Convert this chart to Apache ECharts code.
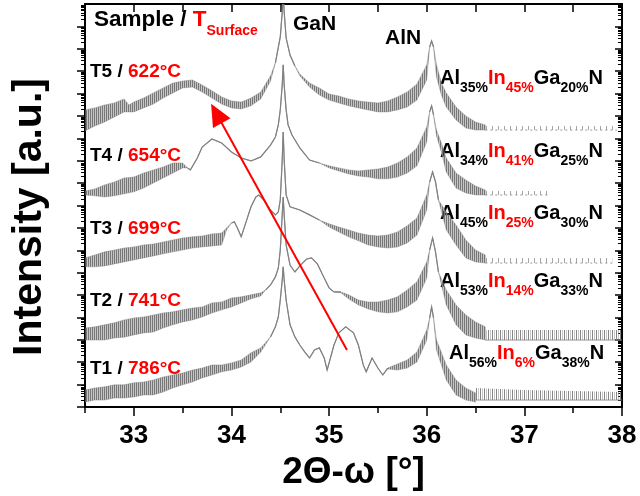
<!DOCTYPE html>
<html><head><meta charset="utf-8">
<script src="https://cdn.jsdelivr.net/npm/echarts@6/dist/echarts.min.js"></script>
<style>html,body{margin:0;padding:0;background:#fff}#c{width:640px;height:496px}</style>
</head><body><div id="c"></div>
<script>
const FONT = "'Liberation Sans', Arial, Helvetica, sans-serif";

// ---- tick labels / categories ----
const xTickLabels = [33, 34, 35, 36, 37, 38];
const samples = ['T1', 'T2', 'T3', 'T4', 'T5'];
const surfaceTemps = ['786°C', '741°C', '699°C', '654°C', '622°C'];
const compAl = ['56%', '53%', '45%', '34%', '35%'];
const compIn = ['6%', '14%', '25%', '41%', '45%'];
const compGa = ['38%', '33%', '30%', '25%', '20%'];

// ---- data: [2θ-ω (deg), upper log10 intensity, lower log10 intensity] (curves offset) ----
const t5 = [[32.5,13.27,12.33],[32.6,13.36,12.55],[32.7,13.49,12.73],[32.8,13.58,12.95],[32.9,13.76,13.18],[32.95,13.49,13.18],[33.0,13.62,13.18],[33.1,13.80,13.36],[33.2,14.03,13.53],[33.3,14.25,13.80],[33.4,14.47,14.03],[33.5,14.56,14.25],[33.6,14.61,14.29],[33.7,14.38,14.07],[33.8,14.12,13.80],[33.9,13.85,13.53],[34.0,13.67,13.36],[34.1,13.62,13.31],[34.2,13.80,13.45],[34.3,14.07,13.76],[34.4,14.79,14.56],[34.45,15.37,15.37],[34.5,16.53,16.53],[34.52,17.64,17.64],[34.53,18.40,18.40],[34.54,17.64,17.64],[34.56,16.48,16.48],[34.6,15.72,15.72],[34.65,15.23,15.23],[34.7,14.87,14.79],[34.8,14.47,14.29],[34.9,14.25,13.94],[35.0,13.98,13.71],[35.1,13.89,13.58],[35.2,13.76,13.45],[35.3,13.67,13.36],[35.4,13.62,13.27],[35.5,13.58,13.18],[35.6,13.67,13.18],[35.7,13.85,13.27],[35.8,14.07,13.40],[35.9,14.43,13.71],[36.0,15.28,14.61],[36.03,16.08,16.08],[36.05,16.35,16.35],[36.07,16.08,16.08],[36.1,15.28,14.74],[36.15,14.47,13.94],[36.2,14.03,13.40],[36.3,13.40,12.82],[36.4,13.00,12.46],[36.5,12.73,12.37],[36.6,12.60,12.37]];
const t5Floor = [[36.6,12.55,12.37],[37.95,12.55,12.37]];

const t4 = [[32.5,9.65,9.47],[32.6,9.74,9.43],[32.7,9.92,9.38],[32.8,10.05,9.43],[32.9,10.23,9.52],[33.0,10.27,9.61],[33.1,10.45,9.78],[33.2,10.59,10.01],[33.3,10.72,10.23],[33.4,10.90,10.45],[33.5,10.90,10.68],[33.55,10.68,10.68],[33.58,10.59,10.59],[33.65,11.12,11.12],[33.7,11.61,11.61],[33.8,11.97,11.97],[33.9,11.79,11.79],[34.0,11.39,11.39],[34.1,11.12,11.12],[34.2,10.99,10.99],[34.3,11.17,11.17],[34.4,11.70,11.70],[34.45,12.06,12.06],[34.48,12.60,12.60],[34.5,13.27,13.27],[34.52,14.38,14.38],[34.53,15.28,15.28],[34.54,14.38,14.38],[34.56,13.27,13.27],[34.58,12.60,12.60],[34.62,12.15,12.15],[34.7,11.57,11.57],[34.8,11.03,11.03],[34.9,10.90,10.90],[35.0,10.77,10.68],[35.1,10.68,10.54],[35.2,10.59,10.41],[35.3,10.54,10.32],[35.4,10.59,10.27],[35.5,10.63,10.19],[35.6,10.72,10.19],[35.7,10.90,10.27],[35.8,11.17,10.45],[35.9,11.57,10.77],[36.0,12.51,11.84],[36.03,13.18,13.18],[36.05,13.45,13.45],[36.07,13.04,13.04],[36.1,12.37,12.11],[36.15,11.79,11.39],[36.2,11.12,10.50],[36.3,10.45,9.78],[36.4,10.14,9.56],[36.5,9.87,9.47],[36.6,9.69,9.47]];
const t4Floor = [[36.6,9.65,9.47],[37.25,9.65,9.47]];

const t3 = [[32.5,6.66,6.26],[32.6,6.79,6.26],[32.7,6.93,6.30],[32.8,7.01,6.39],[32.9,7.10,6.48],[33.0,7.15,6.57],[33.1,7.24,6.66],[33.2,7.28,6.75],[33.3,7.37,6.84],[33.4,7.46,6.93],[33.5,7.55,7.01],[33.6,7.60,7.10],[33.7,7.64,7.15],[33.8,7.73,7.19],[33.9,7.77,7.24],[33.95,8.00,7.91],[34.0,8.22,8.22],[34.03,8.27,8.27],[34.07,7.91,7.91],[34.1,7.60,7.60],[34.13,8.00,8.00],[34.2,8.94,8.94],[34.25,9.38,9.38],[34.28,9.47,9.47],[34.33,9.25,9.25],[34.4,8.80,8.80],[34.45,8.58,8.58],[34.48,8.71,8.71],[34.5,9.25,9.25],[34.52,11.03,11.03],[34.53,12.28,12.28],[34.54,11.03,11.03],[34.56,9.47,9.47],[34.6,8.94,8.94],[34.7,8.80,8.80],[34.8,8.58,8.58],[34.9,8.35,8.35],[35.0,8.18,8.04],[35.1,8.04,7.82],[35.2,7.91,7.60],[35.3,7.77,7.42],[35.4,7.68,7.24],[35.5,7.64,7.15],[35.6,7.68,7.10],[35.7,7.82,7.15],[35.8,8.09,7.33],[35.9,8.44,7.68],[36.0,9.47,8.80],[36.03,10.05,10.05],[36.06,10.50,10.50],[36.09,10.05,10.05],[36.12,9.25,9.25],[36.2,8.71,7.91],[36.3,8.13,7.24],[36.4,7.46,6.66],[36.5,7.01,6.48],[36.6,6.79,6.43]];
const t3Floor = [[36.6,6.66,6.43],[37.9,6.66,6.43]];

const t2 = [[32.5,3.53,2.99],[32.6,3.58,2.99],[32.7,3.67,2.99],[32.8,3.76,3.08],[32.9,3.89,3.12],[33.0,3.98,3.22],[33.1,4.02,3.31],[33.2,4.11,3.35],[33.3,4.20,3.53],[33.4,4.25,3.67],[33.5,4.34,3.80],[33.6,4.42,3.89],[33.7,4.47,4.02],[33.8,4.65,4.20],[33.9,4.69,4.34],[34.0,4.87,4.47],[34.1,4.92,4.65],[34.2,5.01,4.83],[34.3,5.10,4.96],[34.35,5.23,5.23],[34.4,5.45,5.45],[34.45,5.81,5.81],[34.48,6.21,6.21],[34.5,7.01,7.01],[34.52,8.58,8.58],[34.53,9.38,9.38],[34.54,8.58,8.58],[34.56,7.24,7.24],[34.6,6.34,6.34],[34.65,6.03,6.03],[34.7,6.30,6.30],[34.77,6.61,6.61],[34.82,6.66,6.66],[34.88,6.39,6.39],[34.95,5.76,5.76],[35.0,5.32,5.32],[35.05,5.14,5.14],[35.12,5.14,5.10],[35.2,5.01,4.83],[35.3,4.78,4.56],[35.4,4.69,4.38],[35.5,4.69,4.25],[35.6,4.78,4.20],[35.7,4.92,4.25],[35.8,5.23,4.47],[35.9,5.59,4.78],[36.0,6.48,5.76],[36.03,7.01,7.01],[36.06,7.55,7.55],[36.09,6.93,6.93],[36.12,6.03,6.03],[36.2,5.23,4.56],[36.3,4.56,3.67],[36.4,4.11,3.22],[36.5,3.80,3.08],[36.6,3.58,2.99]];
const t2Floor = [[36.6,3.44,2.99],[38.0,3.44,2.99]];

const t1 = [[32.5,0.76,0.22],[32.6,0.85,0.31],[32.7,0.90,0.31],[32.8,0.99,0.40],[32.9,0.99,0.40],[33.0,1.08,0.45],[33.1,1.12,0.54],[33.2,1.21,0.54],[33.3,1.34,0.67],[33.4,1.43,0.85],[33.5,1.52,0.99],[33.6,1.65,1.12],[33.7,1.74,1.30],[33.8,1.88,1.43],[33.9,1.88,1.57],[34.0,1.97,1.65],[34.1,2.10,1.79],[34.2,2.42,2.01],[34.3,2.64,2.46],[34.4,3.13,3.13],[34.45,3.58,3.58],[34.48,4.02,4.02],[34.5,4.78,4.78],[34.52,5.67,5.67],[34.53,6.26,6.26],[34.54,5.67,5.67],[34.56,4.78,4.78],[34.6,3.67,3.67],[34.65,3.13,3.13],[34.7,2.77,2.77],[34.75,2.46,2.46],[34.8,2.19,2.19],[34.85,2.55,2.55],[34.9,2.64,2.64],[34.95,2.19,2.19],[34.98,1.65,1.65],[35.05,2.77,2.77],[35.1,3.31,3.31],[35.17,3.58,3.58],[35.25,3.31,3.31],[35.3,2.77,2.77],[35.35,1.88,1.88],[35.38,1.57,1.57],[35.44,2.19,2.19],[35.5,1.74,1.74],[35.55,1.43,1.43],[35.6,1.74,1.70],[35.7,1.92,1.65],[35.8,2.10,1.74],[35.9,2.46,2.01],[36.0,3.44,2.99],[36.03,3.97,3.97],[36.05,4.47,4.47],[36.07,3.97,3.97],[36.1,2.99,2.55],[36.2,1.88,1.21],[36.3,1.21,0.54],[36.4,0.85,0.31],[36.5,0.63,0.22]];
const t1Floor = [[36.5,0.85,0.31],[37.0,0.76,0.31],[38.0,0.67,0.31]];

// arrow annotation (data coordinates: 2θ, log10 intensity)
const arrowFrom = [35.183, 2.547];
const arrowTo = [33.846, 13.11];

const curves = [
  { name: 'T5', pts: t5, floor: t5Floor, dense: false },
  { name: 'T4', pts: t4, floor: t4Floor, dense: false },
  { name: 'T3', pts: t3, floor: t3Floor, dense: false },
  { name: 'T2', pts: t2, floor: t2Floor, dense: true },
  { name: 'T1', pts: t1, floor: t1Floor, dense: true }
];

const decades = [];
const minors = [];
for (let n = 0; n <= 18; n++) {
  decades.push(Math.pow(10, n));
  if (n < 18) for (let k = 2; k <= 9; k++) minors.push(k * Math.pow(10, n));
}

// hatch patterns imitating dense noise spikes
function makeStripe(cols) {
  const c = document.createElement('canvas');
  c.width = cols.length; c.height = 1;
  const g = c.getContext('2d');
  cols.forEach((col, i) => { if (col) { g.fillStyle = col; g.fillRect(i, 0, 1, 1); } });
  return c;
}
const noisePattern = { image: makeStripe(['#777777', 'rgba(128,128,128,0.45)']), repeat: 'repeat' };
const densePattern = { image: makeStripe(['#858585', null, 'rgba(128,128,128,0.45)', null]), repeat: 'repeat' };
const sparsePattern = { image: makeStripe(['rgba(128,128,128,0.7)', null, null, null, null, null]), repeat: 'repeat' };

function bandSeries(c) {
  return {
    type: 'custom', name: c.name, coordinateSystem: 'cartesian2d',
    xAxisIndex: 0, yAxisIndex: 0, clip: true, silent: true,
    data: c.pts.map(p => [p[0], Math.pow(10, p[1]), Math.pow(10, p[2])]),
    renderItem: function (params, api) {
      if (params.dataIndex !== 0) return null;
      const P = (x, v) => api.coord([x, Math.pow(10, v)]);
      const poly = arr => arr.map(p => P(p[0], p[1])).concat(arr.slice().reverse().map(p => P(p[0], p[2])));
      const children = [];
      children.push({ type: 'polygon', shape: { points: poly(c.floor) },
        style: { fill: c.dense ? densePattern : sparsePattern, stroke: null } });
      children.push({ type: 'polyline', shape: { points: c.floor.map(p => P(p[0], p[2])) },
        style: { fill: null, stroke: 'rgba(128,128,128,0.8)', lineWidth: 1, lineDash: c.dense ? null : [2, 3] } });
      children.push({ type: 'polygon', shape: { points: poly(c.pts) },
        style: { fill: noisePattern, stroke: 'rgba(128,128,128,0.4)', lineWidth: 1 } });
      let run = [];
      const flush = () => { if (run.length > 1) children.push({ type: 'polyline', shape: { points: run },
        style: { fill: null, stroke: '#808080', lineWidth: 1.2 } }); run = []; };
      c.pts.forEach(p => {
        const smooth = Math.abs(p[1] - p[2]) < 0.08;
        if (smooth) run.push(P(p[0], p[1])); else flush();
      });
      flush();
      return { type: 'group', children: children };
    }
  };
}

const series = curves.map(bandSeries);
series.push({
  type: 'line', data: [], xAxisIndex: 0, yAxisIndex: 0, silent: true,
  markLine: {
    silent: true, symbol: ['none', 'triangle'], symbolSize: [20, 22],
    lineStyle: { color: '#ff0000', width: 2, type: 'solid' },
    label: { show: false }, emphasis: { disabled: true },
    data: [[{ coord: [arrowFrom[0], Math.pow(10, arrowFrom[1])] }, { coord: [arrowTo[0], Math.pow(10, arrowTo[1])] }]]
  }
});

const AX = { color: '#000', width: 2 };
const TK = { color: '#000', width: 1.5 };

function tok(size, color, extra) {
  return Object.assign({ fontSize: size, fontWeight: 'bold', fontFamily: FONT, fill: color, color: color }, extra || {});
}

const graphics = [];
graphics.push({
  type: 'text', x: 94, y: 8.4, silent: true,
  style: {
    text: '{b|Sample / }{r|T}{rs|Surface}',
    align: 'left', verticalAlign: 'top', textAlign: 'left', textVerticalAlign: 'top',
    rich: {
      b: tok(22.5, '#000', { lineHeight: 22, verticalAlign: 'middle' }),
      r: tok(22.5, '#ff0000', { lineHeight: 22, verticalAlign: 'middle' }),
      rs: tok(14, '#ff0000', { lineHeight: 14, padding: [24, 0, 0, 0], verticalAlign: 'middle' })
    }
  }
});
graphics.push({ type: 'text', x: 293, y: 24.5, silent: true,
  style: { text: 'GaN', font: 'bold 21px ' + FONT, fill: '#000', align: 'left', verticalAlign: 'middle', textAlign: 'left', textVerticalAlign: 'middle' } });
graphics.push({ type: 'text', x: 385, y: 38.5, silent: true,
  style: { text: 'AlN', font: 'bold 21px ' + FONT, fill: '#000', align: 'left', verticalAlign: 'middle', textAlign: 'left', textVerticalAlign: 'middle' } });

const labelY = [369, 301, 229, 156, 71.5];
const compX = [449, 440, 440, 440, 440];
const compBaseline = [367, 295, 227, 165, 92];
for (let i = 0; i < 5; i++) {
  graphics.push({
    type: 'text', x: 90, y: labelY[i], silent: true,
    style: {
      text: '{b|' + samples[i] + ' / }{r|' + surfaceTemps[i] + '}',
      align: 'left', verticalAlign: 'middle', textAlign: 'left', textVerticalAlign: 'middle',
      rich: { b: tok(19, '#000'), r: tok(19, '#ff0000') }
    }
  });
  graphics.push({
    type: 'text', x: compX[i], y: compBaseline[i] - 24, silent: true,
    style: {
      text: '{b|Al}{s|' + compAl[i] + '}{r|In}{rs|' + compIn[i] + '}{b|Ga}{s|' + compGa[i] + '}{b|N}',
      align: 'left', verticalAlign: 'top', textAlign: 'left', textVerticalAlign: 'top',
      rich: {
        b: tok(20, '#000', { lineHeight: 20, verticalAlign: 'middle' }),
        r: tok(20, '#ff0000', { lineHeight: 20, verticalAlign: 'middle' }),
        s: tok(14, '#000', { lineHeight: 14, padding: [20, 0, 0, 0], verticalAlign: 'middle' }),
        rs: tok(14, '#ff0000', { lineHeight: 14, padding: [20, 0, 0, 0], verticalAlign: 'middle' })
      }
    }
  });
}
graphics.push({ type: 'text', x: 30, y: 217, rotation: Math.PI / 2, silent: true,
  style: { text: 'Intensity [a.u.]', font: 'bold 41px ' + FONT, fill: '#000', align: 'center', verticalAlign: 'middle', textAlign: 'center', textVerticalAlign: 'middle' } });

const option = {
  animation: false,
  backgroundColor: '#fff',
  grid: [
    { left: 85, right: 18, top: 4, bottom: 89 },
    { left: 85, right: 18, top: 4, bottom: 89 }
  ],
  xAxis: [
    { gridIndex: 0, type: 'value', min: 32.5, max: 38, interval: 0.5, position: 'bottom',
      axisLine: { show: true, lineStyle: AX }, axisTick: { show: true, length: 6, lineStyle: TK },
      axisLabel: { show: false }, splitLine: { show: false } },
    { gridIndex: 0, type: 'value', min: 32.5, max: 38, interval: 0.5, position: 'top',
      axisLine: { show: true, lineStyle: AX }, axisTick: { show: true, inside: true, length: 8, lineStyle: TK },
      axisLabel: { show: false }, splitLine: { show: false } },
    { gridIndex: 1, type: 'value', min: 32.5, max: 38, position: 'bottom',
      axisLine: { show: false },
      axisTick: { show: true, length: 9, lineStyle: TK, customValues: xTickLabels },
      axisLabel: { show: true, customValues: xTickLabels, fontSize: 26, fontWeight: 'bold', fontFamily: FONT, color: '#000', margin: 16 },
      splitLine: { show: false },
      name: '2Θ-ω [°]', nameLocation: 'middle', nameGap: 46,
      nameTextStyle: { fontSize: 37, fontWeight: 'bold', fontFamily: FONT, color: '#000' } }
  ],
  yAxis: [
    { gridIndex: 0, type: 'log', min: 1, max: 1e18, position: 'left',
      axisLine: { show: true, lineStyle: AX }, axisTick: { show: true, length: 8, lineStyle: TK, customValues: decades },
      axisLabel: { show: false }, splitLine: { show: false } },
    { gridIndex: 0, type: 'log', min: 1, max: 1e18, position: 'right',
      axisLine: { show: true, lineStyle: AX }, axisTick: { show: true, inside: true, length: 7, lineStyle: TK, customValues: decades },
      axisLabel: { show: false }, splitLine: { show: false } },
    { gridIndex: 1, type: 'log', min: 1, max: 1e18, position: 'left',
      axisLine: { show: false }, axisTick: { show: true, length: 4, lineStyle: { color: '#000', width: 1 }, customValues: minors },
      axisLabel: { show: false }, splitLine: { show: false } },
    { gridIndex: 1, type: 'log', min: 1, max: 1e18, position: 'right',
      axisLine: { show: false }, axisTick: { show: true, inside: true, length: 4, lineStyle: { color: '#000', width: 1 }, customValues: minors },
      axisLabel: { show: false }, splitLine: { show: false } }
  ],
  series: series,
  graphic: graphics
};

const chart = echarts.init(document.getElementById('c'), null, { renderer: 'canvas' });
chart.setOption(option);
</script>
</body></html>
